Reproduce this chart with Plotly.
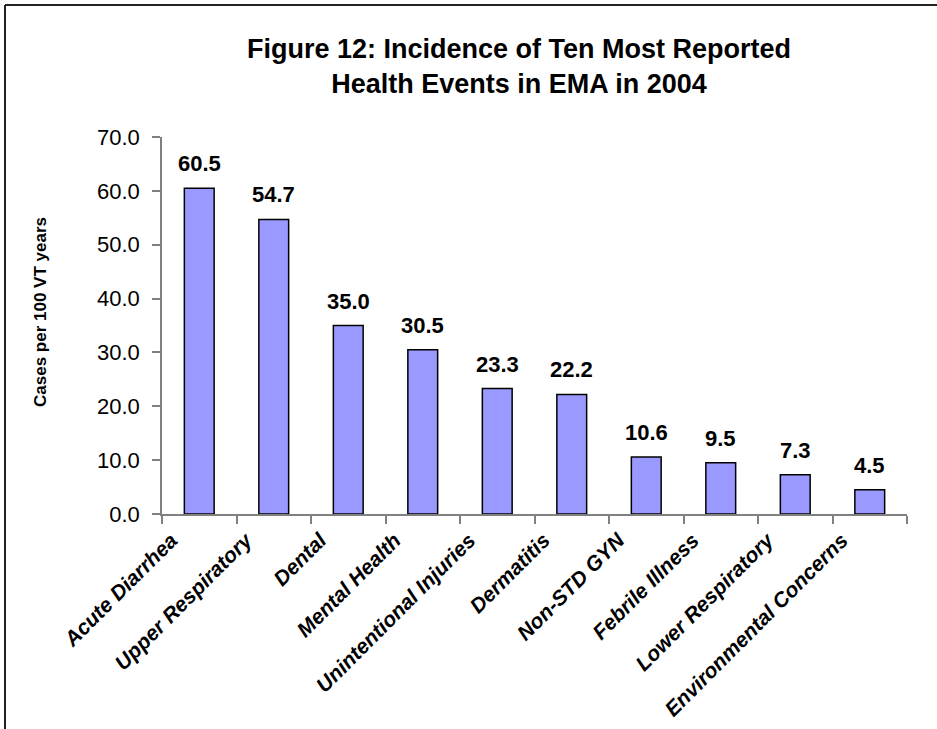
import plotly.graph_objects as go

categories = ["Acute Diarrhea", "Upper Respiratory", "Dental", "Mental Health",
              "Unintentional Injuries", "Dermatitis", "Non-STD GYN",
              "Febrile Illness", "Lower Respiratory", "Environmental Concerns"]
values = [60.5, 54.7, 35.0, 30.5, 23.3, 22.2, 10.6, 9.5, 7.3, 4.5]
y_ticks = [0, 10, 20, 30, 40, 50, 60, 70]

W, H = 937, 729
L, R, T, B = 162, 30, 137, 215
pw, ph = W - L - R, H - T - B
FONT = "Liberation Sans"

fig = go.Figure(go.Bar(
    x=categories, y=values,
    marker=dict(color="#9999FF", line=dict(color="black", width=1.5)),
    width=0.4,
))

# value labels above the bars
for c, v in zip(categories, values):
    fig.add_annotation(x=c, y=v, text=f"{v:.1f}", showarrow=False,
                       yanchor="bottom", yshift=10,
                       font=dict(family=FONT, size=22, color="black", weight="bold"))

fig.update_layout(
    width=W, height=H,
    margin=dict(l=L, r=R, t=T, b=B, autoexpand=False),
    paper_bgcolor="white", plot_bgcolor="white",
    showlegend=False,
    title=dict(
        text="Figure 12: Incidence of Ten Most Reported<br>Health Events in EMA in 2004",
        x=(519 - L) / pw, xref="paper", xanchor="center",
        y=1 - 58 / H, yanchor="middle",
        font=dict(family=FONT, size=27, color="black", weight="bold"),
    ),
    font=dict(family=FONT, color="black"),
)

fig.update_yaxes(
    range=[0, 70], tickvals=y_ticks, ticktext=[f"{v:.1f}" for v in y_ticks],
    showgrid=False, zeroline=False, automargin=False,
    showline=True, linecolor="#808080", linewidth=1.5,
    ticks="outside", ticklen=8, tickcolor="#808080", tickwidth=1.5,
    ticklabelstandoff=8,
    tickfont=dict(family=FONT, size=22, color="black"),
)

fig.update_xaxes(
    showgrid=False, showline=True, linecolor="#808080", linewidth=1.5,
    ticks="outside", ticklen=8, tickcolor="#808080", tickwidth=1.5,
    tickson="boundaries", tickangle=-45, automargin=False,
    ticklabelshift=-28, ticklabelstandoff=4,
    tickfont=dict(family=FONT, size=21, color="black",
                  weight="bold", style="italic"),
)

# y axis title
fig.add_annotation(
    text="Cases per 100 VT years", xref="paper", yref="paper",
    x=(40 - L) / pw, y=(514 - 312) / ph,
    textangle=-90, showarrow=False, xanchor="center", yanchor="middle",
    font=dict(family=FONT, size=17, color="black", weight="bold"),
)

# outer frame (top and left edges)
x0 = (5 - L) / pw
y0 = 1 + (T - 5) / ph
fig.add_shape(type="line", xref="paper", yref="paper",
              x0=x0, x1=(W - L) / pw, y0=y0, y1=y0,
              line=dict(color="#222222", width=2))
fig.add_shape(type="line", xref="paper", yref="paper",
              x0=x0, x1=x0, y0=y0, y1=-(B + 5) / ph,
              line=dict(color="#222222", width=2))

fig.write_html("out.html", post_script="document.body.style.margin='0';",
               config={"displayModeBar": False})
